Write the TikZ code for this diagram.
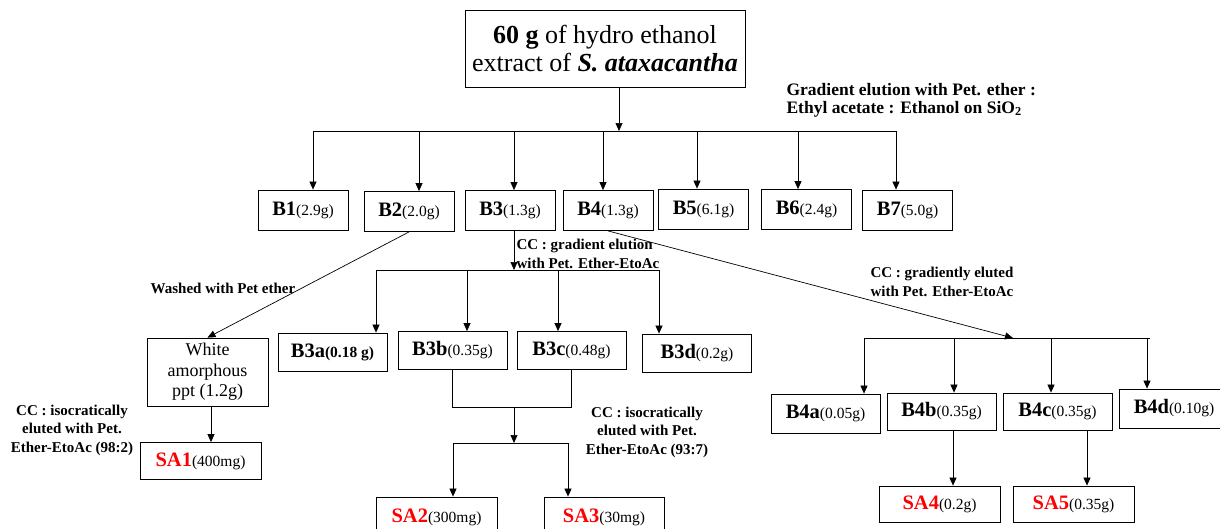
\documentclass[tikz,border=0pt]{standalone}
\usepackage{fontspec}
\setmainfont{Liberation Serif}
\usepackage{xcolor}
\usetikzlibrary{arrows.meta}
\newcommand{\sared}[1]{{\color{red}#1}}
\newcommand{\amt}[1]{{\fontsize{15.5}{18}\selectfont(#1)}}
\newcommand{\amtb}[1]{{\fontsize{15.5}{18}\selectfont\bfseries(#1)}}

\begin{document}
\begin{tikzpicture}[
        x=1pt,
        y=-1pt,
        every node/.style={font=\fontsize{15}{18}\selectfont\bfseries},
        fraction/.style={
            draw,
            line width=0.8pt,
            inner sep=0pt,
            minimum width=90pt,
            minimum height=40pt,
            font=\fontsize{20.5}{24}\selectfont
        },
        subfraction/.style={
            fraction,
            minimum width=109pt,
            minimum height=38pt
        },
        compound/.style={
            fraction,
            minimum width=121pt,
            minimum height=37pt
        },
        link/.style={line width=0.7pt},
        arr/.style={link, -{Triangle[length=8pt,width=7pt]}},
        note/.style={align=center, font=\fontsize{15}{18.5}\selectfont\bfseries}
    ]
        \useasboundingbox (0,0) rectangle (1220,528);

        % Crude extract at the top
        \node[draw, line width=0.8pt, minimum width=280pt, minimum height=77pt,
              align=center, font=\fontsize{26}{28}\selectfont]
            (extract) at (605,48.5)
            {\textbf{60 g} of hydro ethanol\\extract of \textbf{\textit{S. ataxacantha}}};
        \node[note, anchor=west, align=left, font=\fontsize{17.5}{18}\selectfont\bfseries]
            (gradnote) at (783,100)
            {Gradient elution with Pet. ether :\\Ethyl acetate : Ethanol on SiO\textsubscript{2}};

        % Row 1: fractions B1..B7
        \node[fraction] (B1) at (303,210) {\textbf{B1}\amt{2.9g}};
        \node[fraction] (B2) at (409,211.5) {\textbf{B2}\amt{2.0g}};
        \node[fraction] (B3) at (510,210.5) {\textbf{B3}\amt{1.3g}};
        \node[fraction] (B4) at (608,210.5) {\textbf{B4}\amt{1.3g}};
        \node[fraction] (B5) at (703.5,209) {\textbf{B5}\amt{6.1g}};
        \node[fraction] (B6) at (806.5,209.5) {\textbf{B6}\amt{2.4g}};
        \node[fraction] (B7) at (907.5,210) {\textbf{B7}\amt{5.0g}};

        \coordinate (mainbus) at (619,131);
        \draw[arr] (extract.south -| mainbus) -- (mainbus);
        \coordinate (busL) at (313,131);
        \coordinate (busR) at (896,131);
        \draw[link] (busL) -- (busR);
        \foreach \b/\x in {B1/313,B2/419,B3/514,B4/603,B5/697,B6/798,B7/896} {
            \coordinate (t\b) at (\x,131);
            \draw[arr] (t\b) -- (t\b |- \b.north);
        }

        % B2: washed
        \node[draw, line width=0.8pt, minimum width=121pt, minimum height=68pt,
              inner sep=0pt, align=center, font=\fontsize{18}{20.5}\selectfont]
            (white) at (207.5,372) {White\\amorphous\\ppt (1.2g)};
        \node[note] (washnote) at (223,288) {Washed with Pet ether};
        \draw[arr] (B2.south) -- (white.north);

        \node[compound] (SA1) at (200.5,461) {\textbf{\sared{SA1}}\amt{400mg}};
        \node[note] (sa1note) at (72,430)
            {CC : isocratically\\eluted with Pet.\\Ether-EtoAc (98:2)};
        \coordinate (wdrop) at (211,406);
        \draw[arr] (wdrop) -- (wdrop |- SA1.north);

        % B3: column
        \node[note, anchor=west, align=left] (b3note) at (513,254)
            {CC : gradient elution\\with Pet. Ether-EtoAc};
        \node[subfraction] (B3a) at (332.5,352) {\textbf{B3a}\amtb{0.18 g}};
        \node[subfraction] (B3b) at (452.5,350.5) {\textbf{B3b}\amt{0.35g}};
        \node[subfraction] (B3c) at (571.5,350.5) {\textbf{B3c}\amt{0.48g}};
        \node[subfraction] (B3d) at (697,353) {\textbf{B3d}\amt{0.2g}};

        \coordinate (bus3) at (514,270);
        \draw[arr] (bus3 |- B3.south) -- (bus3);
        \coordinate (bus3L) at (376,270);
        \coordinate (bus3R) at (659,270);
        \draw[link] (bus3L) -- (bus3R);
        \foreach \b/\x in {B3a/376,B3b/467,B3c/558,B3d/659} {
            \coordinate (t\b) at (\x,270);
            \draw[arr] (t\b) -- (t\b |- \b.north);
        }

        % B3b + B3c pooled
        \coordinate (join) at (514,407);
        \draw[link] (B3b.south) -- (B3b.south |- join) -- (B3c.south |- join) -- (B3c.south);
        \coordinate (busSA) at (514,443);
        \draw[arr] (join) -- (busSA);
        \node[note] (sa23note) at (647,432)
            {CC : isocratically\\eluted with Pet.\\Ether-EtoAc (93:7)};

        \node[compound, minimum height=40pt] (SA2) at (436.5,517) {\textbf{\sared{SA2}}\amt{300mg}};
        \node[compound, minimum width=120pt, minimum height=40pt] (SA3) at (604,517) {\textbf{\sared{SA3}}\amt{30mg}};
        \coordinate (busSA2) at (453,443);
        \coordinate (busSA3) at (568,443);
        \draw[link] (busSA2) -- (busSA3);
        \draw[arr] (busSA2) -- (busSA2 |- SA2.north);
        \draw[arr] (busSA3) -- (busSA3 |- SA3.north);

        % B4: column
        \node[note] (b4note) at (942,282) {CC : gradiently eluted\\with Pet. Ether-EtoAc};
        \coordinate (bus4) at (1013,338);
        \draw[arr] (B4.south) -- (bus4);
        \coordinate (bus4L) at (864,338);
        \coordinate (bus4R) at (1150,338);
        \draw[link] (bus4L) -- (bus4R);

        \node[subfraction, minimum height=39pt] (B4a) at (825.5,413.5) {\textbf{B4a}\amt{0.05g}};
        \node[subfraction, minimum height=37pt] (B4b) at (941.5,411.5) {\textbf{B4b}\amt{0.35g}};
        \node[subfraction, minimum height=37pt] (B4c) at (1057.5,411.5) {\textbf{B4c}\amt{0.35g}};
        \node[subfraction, minimum width=110pt, minimum height=39pt] (B4d) at (1174,408.5) {\textbf{B4d}\amt{0.10g}};
        \foreach \b/\x in {B4a/864,B4b/954,B4c/1051,B4d/1147} {
            \coordinate (t\b) at (\x,338);
            \draw[arr] (t\b) -- (t\b |- \b.north);
        }

        \node[compound, minimum height=36pt] (SA4) at (939.5,504) {\textbf{\sared{SA4}}\amt{0.2g}};
        \node[compound, minimum height=36pt] (SA5) at (1073.5,504) {\textbf{\sared{SA5}}\amt{0.35g}};
        \coordinate (drop4b) at (953,430);
        \coordinate (drop4c) at (1087,430);
        \draw[arr] (drop4b) -- (drop4b |- SA4.north);
        \draw[arr] (drop4c) -- (drop4c |- SA5.north);

    \end{tikzpicture}
\end{document}
